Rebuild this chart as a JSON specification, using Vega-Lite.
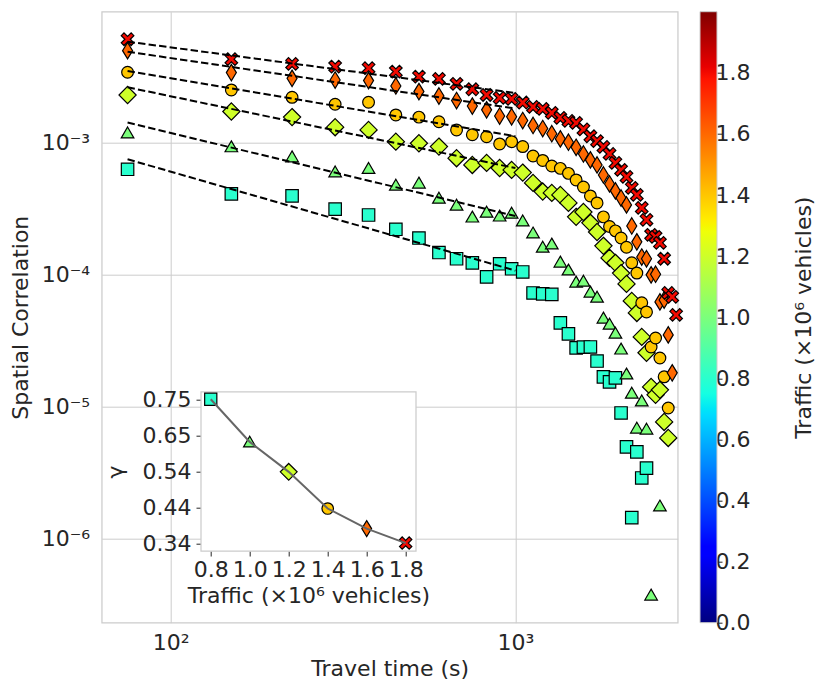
{
  "$schema": "https://vega.github.io/schema/vega-lite/v6.json",
  "autosize": {"type": "none"},
  "width": 576,
  "height": 611,
  "padding": {"left": 101.7, "top": 11.7, "right": 152.3, "bottom": 72.3},
  "config": {
    "font": "DejaVu Sans",
    "view": {"stroke": "#cccccc", "strokeWidth": 1.25},
    "axis": {
      "labelFont": "DejaVu Sans",
      "titleFont": "DejaVu Sans",
      "labelFontSize": 22,
      "titleFontSize": 22,
      "titleFontWeight": "normal",
      "labelColor": "#262626",
      "titleColor": "#262626",
      "tickColor": "#262626",
      "labelFlush": false,
      "labelOverlap": false
    }
  },
  "datasets": {
    "corr": [
      {"traffic": 0.8, "t": 75, "c": 0.000624},
      {"traffic": 0.8, "t": 150, "c": 0.000406},
      {"traffic": 0.8, "t": 225, "c": 0.000392},
      {"traffic": 0.8, "t": 300, "c": 0.000311},
      {"traffic": 0.8, "t": 375, "c": 0.000281},
      {"traffic": 0.8, "t": 450, "c": 0.000219},
      {"traffic": 0.8, "t": 525, "c": 0.000188},
      {"traffic": 0.8, "t": 600, "c": 0.000146},
      {"traffic": 0.8, "t": 675, "c": 0.000131},
      {"traffic": 0.8, "t": 750, "c": 0.000122},
      {"traffic": 0.8, "t": 825, "c": 0.0000955},
      {"traffic": 0.8, "t": 900, "c": 0.000120},
      {"traffic": 0.8, "t": 975, "c": 0.000110},
      {"traffic": 0.8, "t": 1050, "c": 0.000104},
      {"traffic": 0.8, "t": 1125, "c": 0.0000721},
      {"traffic": 0.8, "t": 1200, "c": 0.0000710},
      {"traffic": 0.8, "t": 1275, "c": 0.0000704},
      {"traffic": 0.8, "t": 1350, "c": 0.0000428},
      {"traffic": 0.8, "t": 1425, "c": 0.0000353},
      {"traffic": 0.8, "t": 1500, "c": 0.0000277},
      {"traffic": 0.8, "t": 1575, "c": 0.0000280},
      {"traffic": 0.8, "t": 1650, "c": 0.0000281},
      {"traffic": 0.8, "t": 1725, "c": 0.0000220},
      {"traffic": 0.8, "t": 1800, "c": 0.0000167},
      {"traffic": 0.8, "t": 1875, "c": 0.0000153},
      {"traffic": 0.8, "t": 1950, "c": 0.0000164},
      {"traffic": 0.8, "t": 2025, "c": 0.00000889},
      {"traffic": 0.8, "t": 2100, "c": 0.00000492},
      {"traffic": 0.8, "t": 2175, "c": 0.00000143},
      {"traffic": 0.8, "t": 2250, "c": 0.00000451},
      {"traffic": 0.8, "t": 2325, "c": 0.00000286},
      {"traffic": 0.8, "t": 2400, "c": 0.00000340},
      {"traffic": 1.0, "t": 75, "c": 0.00118},
      {"traffic": 1.0, "t": 150, "c": 0.000927},
      {"traffic": 1.0, "t": 225, "c": 0.000778},
      {"traffic": 1.0, "t": 300, "c": 0.000598},
      {"traffic": 1.0, "t": 375, "c": 0.000635},
      {"traffic": 1.0, "t": 450, "c": 0.000475},
      {"traffic": 1.0, "t": 525, "c": 0.000492},
      {"traffic": 1.0, "t": 600, "c": 0.000378},
      {"traffic": 1.0, "t": 675, "c": 0.000335},
      {"traffic": 1.0, "t": 750, "c": 0.000272},
      {"traffic": 1.0, "t": 825, "c": 0.000296},
      {"traffic": 1.0, "t": 900, "c": 0.000277},
      {"traffic": 1.0, "t": 975, "c": 0.000291},
      {"traffic": 1.0, "t": 1050, "c": 0.000254},
      {"traffic": 1.0, "t": 1125, "c": 0.000206},
      {"traffic": 1.0, "t": 1200, "c": 0.000161},
      {"traffic": 1.0, "t": 1275, "c": 0.000170},
      {"traffic": 1.0, "t": 1350, "c": 0.000124},
      {"traffic": 1.0, "t": 1425, "c": 0.000108},
      {"traffic": 1.0, "t": 1500, "c": 0.0000875},
      {"traffic": 1.0, "t": 1575, "c": 0.0000889},
      {"traffic": 1.0, "t": 1650, "c": 0.0000735},
      {"traffic": 1.0, "t": 1725, "c": 0.0000673},
      {"traffic": 1.0, "t": 1800, "c": 0.0000467},
      {"traffic": 1.0, "t": 1875, "c": 0.0000420},
      {"traffic": 1.0, "t": 1950, "c": 0.0000359},
      {"traffic": 1.0, "t": 2025, "c": 0.0000272},
      {"traffic": 1.0, "t": 2100, "c": 0.0000176},
      {"traffic": 1.0, "t": 2175, "c": 0.0000126},
      {"traffic": 1.0, "t": 2250, "c": 0.00000685},
      {"traffic": 1.0, "t": 2325, "c": 0.0000110},
      {"traffic": 1.0, "t": 2400, "c": 0.00000673},
      {"traffic": 1.0, "t": 2475, "c": 0.000000372},
      {"traffic": 1.0, "t": 2625, "c": 0.00000176},
      {"traffic": 1.2, "t": 75, "c": 0.00228},
      {"traffic": 1.2, "t": 150, "c": 0.00171},
      {"traffic": 1.2, "t": 225, "c": 0.00155},
      {"traffic": 1.2, "t": 300, "c": 0.00130},
      {"traffic": 1.2, "t": 375, "c": 0.00124},
      {"traffic": 1.2, "t": 450, "c": 0.00101},
      {"traffic": 1.2, "t": 525, "c": 0.000983},
      {"traffic": 1.2, "t": 600, "c": 0.000927},
      {"traffic": 1.2, "t": 675, "c": 0.000757},
      {"traffic": 1.2, "t": 750, "c": 0.000673},
      {"traffic": 1.2, "t": 825, "c": 0.000697},
      {"traffic": 1.2, "t": 900, "c": 0.000638},
      {"traffic": 1.2, "t": 975, "c": 0.000617},
      {"traffic": 1.2, "t": 1050, "c": 0.000589},
      {"traffic": 1.2, "t": 1125, "c": 0.000492},
      {"traffic": 1.2, "t": 1200, "c": 0.000423},
      {"traffic": 1.2, "t": 1275, "c": 0.000413},
      {"traffic": 1.2, "t": 1350, "c": 0.000399},
      {"traffic": 1.2, "t": 1425, "c": 0.000347},
      {"traffic": 1.2, "t": 1500, "c": 0.000272},
      {"traffic": 1.2, "t": 1575, "c": 0.000296},
      {"traffic": 1.2, "t": 1650, "c": 0.000245},
      {"traffic": 1.2, "t": 1725, "c": 0.000209},
      {"traffic": 1.2, "t": 1800, "c": 0.000164},
      {"traffic": 1.2, "t": 1875, "c": 0.000133},
      {"traffic": 1.2, "t": 1950, "c": 0.000122},
      {"traffic": 1.2, "t": 2025, "c": 0.000102},
      {"traffic": 1.2, "t": 2100, "c": 0.0000845},
      {"traffic": 1.2, "t": 2175, "c": 0.0000628},
      {"traffic": 1.2, "t": 2250, "c": 0.0000509},
      {"traffic": 1.2, "t": 2325, "c": 0.0000335},
      {"traffic": 1.2, "t": 2400, "c": 0.0000254},
      {"traffic": 1.2, "t": 2475, "c": 0.0000140},
      {"traffic": 1.2, "t": 2550, "c": 0.0000122},
      {"traffic": 1.2, "t": 2625, "c": 0.0000133},
      {"traffic": 1.2, "t": 2700, "c": 0.00000760},
      {"traffic": 1.2, "t": 2775, "c": 0.00000575},
      {"traffic": 1.4, "t": 75, "c": 0.00339},
      {"traffic": 1.4, "t": 150, "c": 0.00249},
      {"traffic": 1.4, "t": 225, "c": 0.00219},
      {"traffic": 1.4, "t": 300, "c": 0.00194},
      {"traffic": 1.4, "t": 375, "c": 0.00201},
      {"traffic": 1.4, "t": 450, "c": 0.00161},
      {"traffic": 1.4, "t": 525, "c": 0.00155},
      {"traffic": 1.4, "t": 600, "c": 0.00143},
      {"traffic": 1.4, "t": 675, "c": 0.00124},
      {"traffic": 1.4, "t": 750, "c": 0.00114},
      {"traffic": 1.4, "t": 825, "c": 0.00110},
      {"traffic": 1.4, "t": 900, "c": 0.000971},
      {"traffic": 1.4, "t": 975, "c": 0.00101},
      {"traffic": 1.4, "t": 1050, "c": 0.000927},
      {"traffic": 1.4, "t": 1125, "c": 0.000787},
      {"traffic": 1.4, "t": 1200, "c": 0.000728},
      {"traffic": 1.4, "t": 1275, "c": 0.000661},
      {"traffic": 1.4, "t": 1350, "c": 0.000634},
      {"traffic": 1.4, "t": 1425, "c": 0.000581},
      {"traffic": 1.4, "t": 1500, "c": 0.000518},
      {"traffic": 1.4, "t": 1575, "c": 0.000458},
      {"traffic": 1.4, "t": 1650, "c": 0.000392},
      {"traffic": 1.4, "t": 1725, "c": 0.000347},
      {"traffic": 1.4, "t": 1800, "c": 0.000272},
      {"traffic": 1.4, "t": 1875, "c": 0.000230},
      {"traffic": 1.4, "t": 1950, "c": 0.000213},
      {"traffic": 1.4, "t": 2025, "c": 0.000188},
      {"traffic": 1.4, "t": 2100, "c": 0.000160},
      {"traffic": 1.4, "t": 2175, "c": 0.000122},
      {"traffic": 1.4, "t": 2250, "c": 0.000102},
      {"traffic": 1.4, "t": 2325, "c": 0.0000607},
      {"traffic": 1.4, "t": 2400, "c": 0.0000518},
      {"traffic": 1.4, "t": 2475, "c": 0.0000281},
      {"traffic": 1.4, "t": 2550, "c": 0.0000329},
      {"traffic": 1.4, "t": 2625, "c": 0.0000232},
      {"traffic": 1.4, "t": 2700, "c": 0.0000167},
      {"traffic": 1.4, "t": 2775, "c": 0.00000970},
      {"traffic": 1.6, "t": 75, "c": 0.00494},
      {"traffic": 1.6, "t": 150, "c": 0.00337},
      {"traffic": 1.6, "t": 225, "c": 0.00305},
      {"traffic": 1.6, "t": 300, "c": 0.00296},
      {"traffic": 1.6, "t": 375, "c": 0.00293},
      {"traffic": 1.6, "t": 450, "c": 0.00267},
      {"traffic": 1.6, "t": 525, "c": 0.00242},
      {"traffic": 1.6, "t": 600, "c": 0.00224},
      {"traffic": 1.6, "t": 675, "c": 0.00207},
      {"traffic": 1.6, "t": 750, "c": 0.00188},
      {"traffic": 1.6, "t": 825, "c": 0.00176},
      {"traffic": 1.6, "t": 900, "c": 0.00158},
      {"traffic": 1.6, "t": 975, "c": 0.00156},
      {"traffic": 1.6, "t": 1050, "c": 0.00146},
      {"traffic": 1.6, "t": 1125, "c": 0.00134},
      {"traffic": 1.6, "t": 1200, "c": 0.00127},
      {"traffic": 1.6, "t": 1275, "c": 0.00116},
      {"traffic": 1.6, "t": 1350, "c": 0.00106},
      {"traffic": 1.6, "t": 1425, "c": 0.00100},
      {"traffic": 1.6, "t": 1500, "c": 0.000916},
      {"traffic": 1.6, "t": 1575, "c": 0.000815},
      {"traffic": 1.6, "t": 1650, "c": 0.000735},
      {"traffic": 1.6, "t": 1725, "c": 0.000673},
      {"traffic": 1.6, "t": 1800, "c": 0.000565},
      {"traffic": 1.6, "t": 1875, "c": 0.000483},
      {"traffic": 1.6, "t": 1950, "c": 0.000428},
      {"traffic": 1.6, "t": 2025, "c": 0.000378},
      {"traffic": 1.6, "t": 2100, "c": 0.000335},
      {"traffic": 1.6, "t": 2175, "c": 0.000232},
      {"traffic": 1.6, "t": 2250, "c": 0.000176},
      {"traffic": 1.6, "t": 2325, "c": 0.000135},
      {"traffic": 1.6, "t": 2400, "c": 0.000131},
      {"traffic": 1.6, "t": 2475, "c": 0.0000989},
      {"traffic": 1.6, "t": 2550, "c": 0.000100},
      {"traffic": 1.6, "t": 2625, "c": 0.0000617},
      {"traffic": 1.6, "t": 2700, "c": 0.0000638},
      {"traffic": 1.6, "t": 2775, "c": 0.0000347},
      {"traffic": 1.6, "t": 2850, "c": 0.0000179},
      {"traffic": 1.8, "t": 75, "c": 0.00603},
      {"traffic": 1.8, "t": 150, "c": 0.00426},
      {"traffic": 1.8, "t": 225, "c": 0.00392},
      {"traffic": 1.8, "t": 300, "c": 0.00374},
      {"traffic": 1.8, "t": 375, "c": 0.00364},
      {"traffic": 1.8, "t": 450, "c": 0.00343},
      {"traffic": 1.8, "t": 525, "c": 0.00314},
      {"traffic": 1.8, "t": 600, "c": 0.00302},
      {"traffic": 1.8, "t": 675, "c": 0.00277},
      {"traffic": 1.8, "t": 750, "c": 0.00252},
      {"traffic": 1.8, "t": 825, "c": 0.00228},
      {"traffic": 1.8, "t": 900, "c": 0.00217},
      {"traffic": 1.8, "t": 975, "c": 0.00213},
      {"traffic": 1.8, "t": 1050, "c": 0.00200},
      {"traffic": 1.8, "t": 1125, "c": 0.00185},
      {"traffic": 1.8, "t": 1200, "c": 0.00179},
      {"traffic": 1.8, "t": 1275, "c": 0.00167},
      {"traffic": 1.8, "t": 1350, "c": 0.00153},
      {"traffic": 1.8, "t": 1425, "c": 0.00145},
      {"traffic": 1.8, "t": 1500, "c": 0.00140},
      {"traffic": 1.8, "t": 1575, "c": 0.00125},
      {"traffic": 1.8, "t": 1650, "c": 0.00111},
      {"traffic": 1.8, "t": 1725, "c": 0.00102},
      {"traffic": 1.8, "t": 1800, "c": 0.000921},
      {"traffic": 1.8, "t": 1875, "c": 0.000815},
      {"traffic": 1.8, "t": 1950, "c": 0.000697},
      {"traffic": 1.8, "t": 2025, "c": 0.000617},
      {"traffic": 1.8, "t": 2100, "c": 0.000546},
      {"traffic": 1.8, "t": 2175, "c": 0.000451},
      {"traffic": 1.8, "t": 2250, "c": 0.000399},
      {"traffic": 1.8, "t": 2325, "c": 0.000318},
      {"traffic": 1.8, "t": 2400, "c": 0.000258},
      {"traffic": 1.8, "t": 2475, "c": 0.000199},
      {"traffic": 1.8, "t": 2550, "c": 0.000192},
      {"traffic": 1.8, "t": 2625, "c": 0.000173},
      {"traffic": 1.8, "t": 2700, "c": 0.000131},
      {"traffic": 1.8, "t": 2775, "c": 0.0000721},
      {"traffic": 1.8, "t": 2850, "c": 0.0000673},
      {"traffic": 1.8, "t": 2925, "c": 0.0000492}
    ],
    "fits": [
      {"traffic": 0.8, "t": 75, "c": 0.000743},
      {"traffic": 0.8, "t": 1000, "c": 0.0001065},
      {"traffic": 1.0, "t": 75, "c": 0.00141},
      {"traffic": 1.0, "t": 1000, "c": 0.000276},
      {"traffic": 1.2, "t": 75, "c": 0.00261},
      {"traffic": 1.2, "t": 1000, "c": 0.000637},
      {"traffic": 1.4, "t": 75, "c": 0.00347},
      {"traffic": 1.4, "t": 1000, "c": 0.00111},
      {"traffic": 1.6, "t": 75, "c": 0.00485},
      {"traffic": 1.6, "t": 1000, "c": 0.00180},
      {"traffic": 1.8, "t": 75, "c": 0.00578},
      {"traffic": 1.8, "t": 1000, "c": 0.00236}
    ],
    "gamma": [
      {"traffic": 0.8, "gamma": 0.75},
      {"traffic": 1.0, "gamma": 0.629},
      {"traffic": 1.2, "gamma": 0.544},
      {"traffic": 1.4, "gamma": 0.44},
      {"traffic": 1.6, "gamma": 0.383},
      {"traffic": 1.8, "gamma": 0.342}
    ],
    "box": [{"part": "frame"}]
  },
  "layer": [
    {
      "encoding": {
        "x": {
          "field": "t",
          "type": "quantitative",
          "scale": {"type": "log", "domain": [63.1, 2956], "nice": false},
          "axis": {
            "orient": "bottom",
            "values": [100, 1000],
            "labelExpr": "datum.value < 500 ? '10²' : '10³'",
            "grid": true,
            "gridColor": "#cccccc",
            "gridWidth": 1,
            "ticks": false,
            "tickSize": 0,
            "domain": false,
            "labelPadding": 10,
            "title": "Travel time (s)",
            "titlePadding": 5
          }
        },
        "y": {
          "field": "c",
          "type": "quantitative",
          "scale": {"type": "log", "domain": [2.29e-7, 0.00975], "nice": false},
          "axis": {
            "orient": "left",
            "values": [0.001, 0.0001, 0.00001, 0.000001],
            "labelExpr": "datum.value > 0.0005 ? '10⁻³' : datum.value > 0.00005 ? '10⁻⁴' : datum.value > 0.000005 ? '10⁻⁵' : '10⁻⁶'",
            "grid": true,
            "gridColor": "#cccccc",
            "gridWidth": 1,
            "ticks": false,
            "tickSize": 0,
            "domain": false,
            "labelPadding": 12,
            "title": "Spatial Correlation",
            "titlePadding": 9
          }
        }
      },
      "layer": [
        {
          "data": {"name": "corr"},
          "mark": {"type": "point", "filled": true, "size": 205, "opacity": 1, "stroke": "#000000", "strokeWidth": 1.2},
          "encoding": {
            "fill": {
              "field": "traffic",
              "type": "nominal",
              "scale": {
                "domain": [0.8, 1.0, 1.2, 1.4, 1.6, 1.8],
                "range": ["#29ffce", "#7bff7b", "#ceff29", "#ffc600", "#ff6800", "#f30900"]
              },
              "legend": null
            },
            "shape": {
              "field": "traffic",
              "type": "nominal",
              "scale": {
                "domain": [0.8, 1.0, 1.2, 1.4, 1.6, 1.8],
                "range": [
                  "M-0.87,-0.87L0.87,-0.87L0.87,0.87L-0.87,0.87Z",
                  "M0,-0.8L0.88,0.72L-0.88,0.72Z",
                  "M0,-1.2L1.2,0L0,1.2L-1.2,0Z",
                  "M0.82,0A0.82,0.82,0,1,1,-0.82,0A0.82,0.82,0,1,1,0.82,0Z",
                  "M0,-1.15L0.7,0L0,1.15L-0.7,0Z",
                  "M-0.88,-0.5L-0.5,-0.88L0,-0.38L0.5,-0.88L0.88,-0.5L0.38,0L0.88,0.5L0.5,0.88L0,0.38L-0.5,0.88L-0.88,0.5L-0.38,0Z"
                ]
              },
              "legend": null
            }
          }
        },
        {
          "data": {"name": "fits"},
          "mark": {"type": "line", "color": "#000000", "strokeWidth": 2, "strokeDash": [7.4, 3.2]},
          "encoding": {"detail": {"field": "traffic", "type": "nominal"}}
        }
      ]
    },
    {
      "layer": [
        {
          "data": {"name": "box"},
          "mark": {"type": "rect", "fill": "#ffffff", "stroke": "#cccccc", "strokeWidth": 1.25},
          "encoding": {
            "x": {
              "datum": 0.75,
              "type": "quantitative",
              "scale": {"domain": [0.75, 1.853], "range": [99.3, 314.3], "nice": false, "zero": false},
              "axis": {
                "orient": "bottom",
                "offset": -71.7,
                "values": [0.8, 1.0, 1.2, 1.4, 1.6, 1.8],
                "format": ".1f",
                "grid": false,
                "domain": false,
                "ticks": true,
                "tickSize": 5,
                "tickWidth": 1,
                "labelPadding": 3,
                "title": "Traffic (×10⁶ vehicles)",
                "titlePadding": 5
              }
            },
            "x2": {"datum": 1.853},
            "y": {
              "datum": 0.3195,
              "type": "quantitative",
              "scale": {"domain": [0.3195, 0.7705], "range": [539.3, 380.3], "nice": false, "zero": false},
              "axis": {
                "orient": "left",
                "offset": -99.3,
                "values": [0.34, 0.4425, 0.545, 0.6475, 0.75],
                "labelExpr": "datum.value > 0.7 ? '0.75' : datum.value > 0.6 ? '0.65' : datum.value > 0.5 ? '0.54' : datum.value > 0.4 ? '0.44' : '0.34'",
                "grid": false,
                "domain": false,
                "ticks": true,
                "tickSize": 5,
                "tickWidth": 1,
                "labelPadding": 5,
                "title": "γ",
                "titlePadding": 15
              }
            },
            "y2": {"datum": 0.7705}
          }
        },
        {
          "data": {"name": "gamma"},
          "mark": {"type": "point", "filled": true, "size": 196, "opacity": 1, "stroke": "#000000", "strokeWidth": 1.2},
          "encoding": {
            "x": {"field": "traffic", "type": "quantitative"},
            "y": {"field": "gamma", "type": "quantitative"},
            "fill": {"field": "traffic", "type": "nominal", "legend": null},
            "shape": {"field": "traffic", "type": "nominal", "legend": null}
          }
        },
        {
          "data": {"name": "gamma"},
          "mark": {"type": "line", "color": "#666666", "strokeWidth": 2},
          "encoding": {
            "x": {"field": "traffic", "type": "quantitative"},
            "y": {"field": "gamma", "type": "quantitative"}
          }
        }
      ]
    },
    {
      "data": {"name": "box"},
      "mark": {
        "type": "rect",
        "stroke": "#cccccc",
        "strokeWidth": 1,
        "fill": {
          "gradient": "linear",
          "x1": 0, "y1": 1, "x2": 0, "y2": 0,
          "stops": [
            {"offset": 0, "color": "#000080"},
            {"offset": 0.11, "color": "#0000ff"},
            {"offset": 0.125, "color": "#0000ff"},
            {"offset": 0.34, "color": "#00dbff"},
            {"offset": 0.35, "color": "#00e6f7"},
            {"offset": 0.375, "color": "#15ffe2"},
            {"offset": 0.64, "color": "#efff08"},
            {"offset": 0.65, "color": "#f7f600"},
            {"offset": 0.66, "color": "#ffec00"},
            {"offset": 0.89, "color": "#ff1300"},
            {"offset": 0.91, "color": "#e80000"},
            {"offset": 1, "color": "#800000"}
          ]
        }
      },
      "encoding": {
        "x": {
          "datum": 0,
          "type": "quantitative",
          "scale": {"domain": [0, 1], "range": [598.3, 615.3], "nice": false, "zero": false},
          "axis": null
        },
        "x2": {"datum": 1},
        "y": {
          "datum": 0,
          "type": "quantitative",
          "scale": {"domain": [0, 2], "nice": false},
          "axis": {
            "orient": "right",
            "offset": 39.3,
            "values": [0, 0.2, 0.4, 0.6, 0.8, 1.0, 1.2, 1.4, 1.6, 1.8],
            "format": ".1f",
            "grid": false,
            "domain": false,
            "ticks": true,
            "tickSize": 5,
            "tickWidth": 1,
            "labelPadding": -7,
            "title": "Traffic (×10⁶ vehicles)",
            "titleAngle": 270,
            "titleBaseline": "top",
            "titlePadding": 44
          }
        },
        "y2": {"datum": 2}
      }
    }
  ],
  "resolve": {"scale": {"x": "independent", "y": "independent"}}
}
